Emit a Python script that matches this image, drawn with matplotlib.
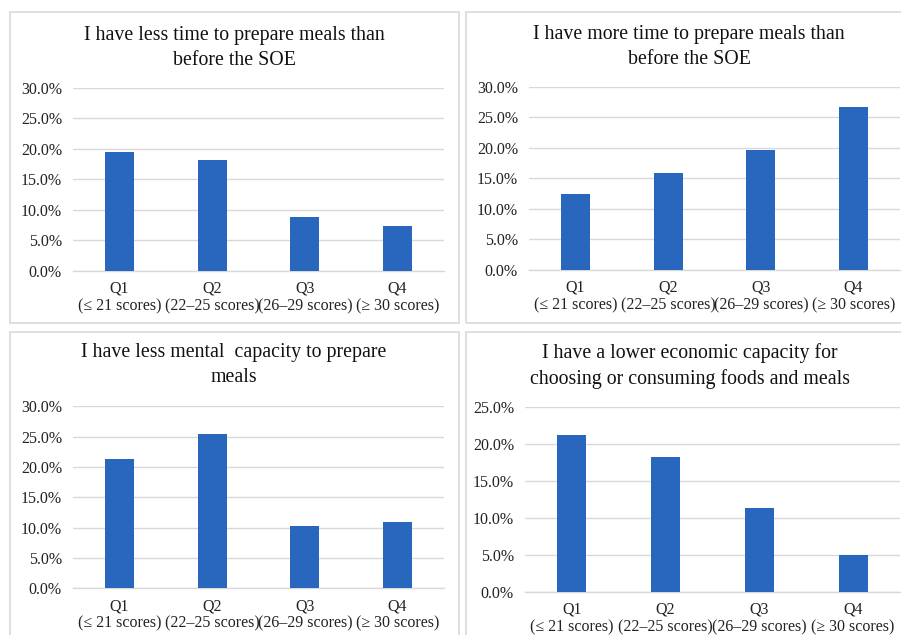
import matplotlib
matplotlib.use("Agg")
import matplotlib.pyplot as plt
from matplotlib.patches import Rectangle
from matplotlib.ticker import FuncFormatter

plt.rcParams['font.family'] = ['Liberation Serif', 'DejaVu Serif']

categories = ["Q1\n(\u2264 21 scores)", "Q2\n(22\u201325 scores)",
              "Q3\n(26\u201329 scores)", "Q4\n(\u2265 30 scores)"]

less_time = [19.5, 18.2, 8.9, 7.3]
more_time = [12.4, 15.8, 19.6, 26.6]
less_mental = [21.3, 25.5, 10.3, 11.0]
lower_economic = [21.3, 18.3, 11.4, 5.0]

titles = [
    "I have less time to prepare meals than\nbefore the SOE",
    "I have more time to prepare meals than\nbefore the SOE",
    "I have less mental  capacity to prepare\nmeals",
    "I have a lower economic capacity for\nchoosing or consuming foods and meals",
]
series = [less_time, more_time, less_mental, lower_economic]
y_max = [30, 30, 30, 25]

W, H = 901, 635
BAR = "#2966BD"
GRID = "#D9D9D9"

# pixel layout: panel box, plot box (left, top, right, bottom), title centre
panels = [(10, 12, 459, 323), (466, 12, 915, 323), (10, 332, 459, 645), (466, 332, 915, 645)]
plots = [(73, 87.7, 444, 271), (529, 86.7, 900, 270), (73, 406.3, 444, 588.3), (525, 407.3, 900, 591.7)]
title_pos = [(234.5, 48), (689, 47), (234, 365), (690, 366)]

fig = plt.figure(figsize=(W / 100, H / 100), dpi=100)

for i in range(4):
    x0, y0, x1, y1 = panels[i]
    fig.patches.append(Rectangle((x0 / W, 1 - y1 / H), (x1 - x0) / W, (y1 - y0) / H,
                                 transform=fig.transFigure, fill=False,
                                 edgecolor=GRID, linewidth=1.2))

    l, t, r, b = plots[i]
    ax = fig.add_axes([l / W, 1 - b / H, (r - l) / W, (b - t) / H])
    ax.bar(range(4), series[i], width=0.31, color=BAR, zorder=3)
    ax.set_xlim(-0.5, 3.5)
    ax.set_ylim(0, y_max[i])
    ax.set_yticks(range(0, y_max[i] + 1, 5))
    ax.yaxis.set_major_formatter(FuncFormatter(lambda v, p: f"{v:.1f}%"))
    ax.set_xticks(range(4))
    ax.set_xticklabels(categories, linespacing=1.15)
    ax.grid(axis="y", color=GRID, linewidth=1.0, zorder=0)
    for s in ["top", "right", "left"]:
        ax.spines[s].set_visible(False)
    ax.spines["bottom"].set_color(GRID)
    ax.spines["bottom"].set_linewidth(1.0)
    ax.tick_params(axis="y", length=0, pad=8, labelsize=11.5, labelcolor="#222222")
    ax.tick_params(axis="x", length=0, pad=7, labelsize=11.5, labelcolor="#222222")

    tx, ty = title_pos[i]
    fig.text(tx / W, 1 - ty / H, titles[i], ha="center", va="center",
             fontsize=14.3, linespacing=1.4, color="#111111")

fig.savefig("out.png", dpi=100)
